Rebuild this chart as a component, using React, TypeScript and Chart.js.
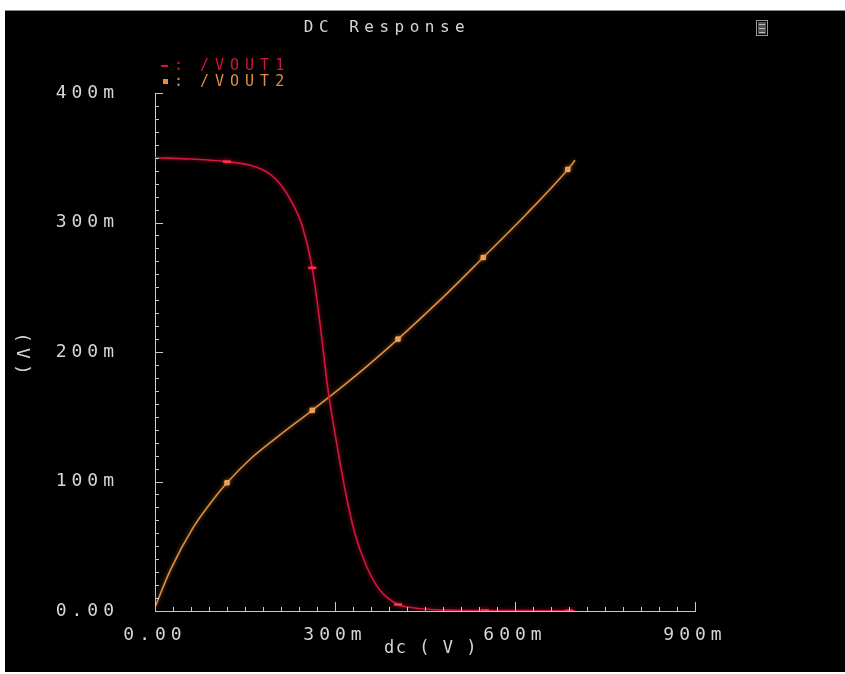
import React, { useEffect, useRef } from "react";
import { Chart, registerables } from "chart.js";

Chart.register(...registerables);

// DC sweep values (mV)
const vout1X = [0, 60, 120, 160, 190, 210, 230, 245, 262, 275, 288, 303, 317, 333, 353, 375, 405, 430, 460, 500, 550, 600, 650, 690, 700];
const vout1Y = [350, 349, 347, 344, 338, 329, 314, 298, 265, 222, 172, 129, 93, 60, 34, 16, 5, 2.5, 1.2, 0.6, 0.4, 0.3, 0.2, 0.2, 0.2];
const vout1Markers = [120, 262, 405, 550, 690];

const vout2X = [0, 25, 63, 92, 120, 158, 203, 262, 330, 405, 475, 547, 620, 688, 700];
const vout2Y = [3, 31, 64, 83, 99, 117, 134, 155, 180, 210, 240, 273, 307, 341, 348];
const vout2Markers = [120, 262, 405, 547, 688];

const xTickValues = [0, 300, 600, 900];
const yTickValues = [0, 100, 200, 300, 400];

const seriesNames = ["/VOUT1", "/VOUT2"];
const titleText = "DC Response";
const xTitle = "dc ( V )";
const yTitle = "(V)";

const RED = "#d2163a";
const ORANGE = "#df8f3e";
const TEXT = "#d6d6d6";
const FONT = '"DejaVu Sans Mono", monospace';

const fmt = (v: number) => (v === 0 ? "0.00" : `${v}m`);

export default function App() {
  const ref = useRef<HTMLCanvasElement | null>(null);
  useEffect(() => {
    if (!ref.current) return;
    const deco = {
      id: "deco",
      beforeDraw(chart: any) {
        const ctx = chart.ctx;
        ctx.save();
        ctx.fillStyle = "#000";
        ctx.fillRect(0, 0, chart.width, chart.height);
        ctx.restore();
        ctx.letterSpacing = "5px";
      },
      beforeDatasetDraw(chart: any, args: any) {
        const ctx = chart.ctx;
        ctx.save();
        ctx.shadowBlur = 4;
        ctx.shadowColor = args.index === 0 ? "rgba(230,20,60,0.7)" : "rgba(230,140,60,0.6)";
      },
      afterDatasetDraw(chart: any) {
        chart.ctx.restore();
      },
      afterDraw(chart: any) {
        const ctx = chart.ctx;
        const xs = chart.scales.x;
        const ys = chart.scales.y;
        const x0 = xs.getPixelForValue(0);
        const y0 = ys.getPixelForValue(0);
        ctx.save();
        ctx.letterSpacing = "0px";
        ctx.strokeStyle = "#c8c8c8";
        ctx.lineWidth = 1;
        ctx.beginPath();
        for (let v = 0; v <= 400; v += 10) {
          const py = Math.round(ys.getPixelForValue(v)) + 0.5;
          const len = v % 100 === 0 ? 8 : 4;
          ctx.moveTo(x0, py);
          ctx.lineTo(x0 + len, py);
        }
        for (let v = 0; v <= 900; v += 30) {
          const px = Math.round(xs.getPixelForValue(v)) + 0.5;
          const len = v % 300 === 0 ? 9 : 4;
          ctx.moveTo(px, y0);
          ctx.lineTo(px, y0 - len);
        }
        ctx.stroke();

        // title
        ctx.fillStyle = TEXT;
        ctx.textBaseline = "middle";
        ctx.textAlign = "center";
        ctx.font = `16px ${FONT}`;
        ctx.letterSpacing = "5.5px";
        ctx.fillText(titleText, 382, 17);

        // icon
        ctx.strokeStyle = "#9a9a9a";
        ctx.strokeRect(751.5, 9.5, 11, 15);
        ctx.fillStyle = "#555";
        ctx.fillRect(753, 11, 8, 12);
        ctx.strokeStyle = "#bbb";
        ctx.beginPath();
        ctx.moveTo(754, 13.5); ctx.lineTo(760, 13.5);
        ctx.moveTo(754, 17.5); ctx.lineTo(760, 17.5);
        ctx.moveTo(754, 21.5); ctx.lineTo(760, 21.5);
        ctx.stroke();

        // legend
        ctx.textAlign = "left";
        ctx.font = `15px ${FONT}`;
        ctx.letterSpacing = "6px";
        ctx.fillStyle = RED;
        ctx.fillRect(156, 54, 7, 2);
        ctx.fillText(":", 169, 55);
        ctx.fillText(seriesNames[0], 195, 55);
        ctx.fillStyle = ORANGE;
        ctx.fillRect(158, 68, 5, 5);
        ctx.fillText(":", 169, 71);
        ctx.fillText(seriesNames[1], 195, 71);

        // axis titles
        ctx.fillStyle = TEXT;
        ctx.textAlign = "center";
        ctx.font = `17px ${FONT}`;
        ctx.letterSpacing = "1.5px";
        ctx.fillText(xTitle, 426, 638);
        ctx.save();
        ctx.translate(17, 343);
        ctx.rotate(Math.PI / 2);
        ctx.font = `18px ${FONT}`;
        ctx.letterSpacing = "5px";
        ctx.fillText(yTitle, 2, 0);
        ctx.restore();
        ctx.restore();
      },
    };

    const pts = (xs: number[], ys: number[]) => xs.map((x, i) => ({ x, y: ys[i] }));
    const markerRadius = (markers: number[], r: number) => (c: any) =>
      c.raw && markers.includes(c.raw.x) ? r : 0;

    const chart = new Chart(ref.current, {
      type: "line",
      data: {
        datasets: [
          {
            label: seriesNames[0],
            data: pts(vout1X, vout1Y),
            borderColor: RED,
            backgroundColor: RED,
            borderWidth: 1.6,
            cubicInterpolationMode: "monotone",
            pointStyle: "line",
            pointRadius: markerRadius(vout1Markers, 4),
            pointBorderWidth: 2.5,
            pointBorderColor: "#ff3050",
            pointHoverRadius: 0,
          },
          {
            label: seriesNames[1],
            data: pts(vout2X, vout2Y),
            borderColor: ORANGE,
            backgroundColor: "#f0a050",
            borderWidth: 1.6,
            cubicInterpolationMode: "monotone",
            pointStyle: "rect",
            pointRadius: markerRadius(vout2Markers, 3),
            pointBorderWidth: 1,
            pointBorderColor: "#f6b060",
            pointHoverRadius: 0,
          },
        ],
      },
      options: {
        responsive: false,
        animation: false,
        events: [],
        layout: { padding: { left: 0, right: 150, top: 82, bottom: 0 } },
        plugins: { legend: { display: false }, title: { display: false }, tooltip: { enabled: false } },
        scales: {
          x: {
            type: "linear",
            min: 0,
            max: 900,
            afterFit: (s: any) => { s.height = 61; },
            afterBuildTicks: (s: any) => { s.ticks = xTickValues.map((v) => ({ value: v })); },
            grid: { display: false },
            border: { display: true, color: "#c8c8c8", width: 1 },
            ticks: {
              color: TEXT,
              font: { family: FONT, size: 18 },
              padding: 6,
              maxRotation: 0,
              autoSkip: false,
              callback: (v: any) => fmt(Number(v)),
            },
          },
          y: {
            type: "linear",
            min: 0,
            max: 400,
            afterFit: (s: any) => { s.width = 150; },
            afterBuildTicks: (s: any) => { s.ticks = yTickValues.map((v) => ({ value: v })); },
            grid: { display: false },
            border: { display: true, color: "#c8c8c8", width: 1 },
            ticks: {
              color: TEXT,
              font: { family: FONT, size: 18 },
              padding: 28,
              autoSkip: false,
              callback: (v: any) => fmt(Number(v)),
            },
          },
        },
      },
      plugins: [deco],
    } as any);
    return () => chart.destroy();
  }, []);

  return (
    <div
      style={{
        position: "absolute",
        left: 5,
        top: 10,
        width: 840,
        height: 662,
        background: "#000",
        borderTop: "1px solid #8a8a8a",
        boxSizing: "border-box",
      }}
    >
      <canvas ref={ref} width={840} height={661} style={{ display: "block" }} />
    </div>
  );
}
